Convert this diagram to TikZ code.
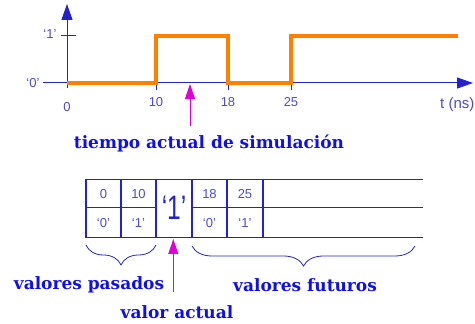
\documentclass[tikz,border=0pt]{standalone}
\usepackage{fontspec}
\setmainfont{Liberation Sans}
\newfontfamily\capfont{DejaVu Serif}
\usetikzlibrary{arrows.meta, decorations.pathreplacing, positioning}

\definecolor{axisblue}{RGB}{35,35,205}
\definecolor{labelblue}{RGB}{75,75,205}
\definecolor{capblue}{RGB}{15,15,235}
\definecolor{sigorange}{RGB}{255,128,0}
\definecolor{nowmagenta}{RGB}{225,0,215}

\tikzset{axis/.style={draw=axisblue, line width=1pt},
    axis arrow/.style={axis, -{Triangle[length=16pt,width=11pt]}},
    signal/.style={draw=sigorange, line width=3.5pt},
    marker/.style={draw=nowmagenta, fill=nowmagenta, line width=1pt,
        -{Triangle[length=15pt,width=10pt]}},
    tick label/.style={text=labelblue, inner sep=1pt,
        font=\fontsize{13}{13}\selectfont},
    caption/.style={text=capblue, inner sep=1pt,
        font=\capfont\bfseries\fontsize{17}{17}\selectfont},
    grid line/.style={draw=axisblue, line width=1.2pt},
    brace/.style={draw=axisblue, line width=0.8pt, decorate,
        decoration={brace, mirror, amplitude=20pt}}}

\begin{document}
\begin{tikzpicture}[x=1pt,y=1pt]
\useasboundingbox (0,0) rectangle (475,324);

% Axes of the waveform
\coordinate (ybot) at (67,236);
\coordinate (ytop) at (67,320);
\coordinate (xleft) at (43,241);
\coordinate (xright) at (473,241);
\draw[axis arrow] (ybot) -- (ytop);
\draw[axis arrow] (xleft) -- (xright);
\draw[axis] (61,288) -- (76,288);

% Level and time labels
\node[tick label] (lvl1) at (50,290) {‘1’};
\node[tick label] (lvl0) at (33,241) {‘0’};
\node[tick label] (t0) at (67,217) {0};
\foreach \x/\t in {156/10, 228/18, 291/25} {
  \draw[axis] (\x,241) -- (\x,234);
  \node[tick label] (t\t) at (\x,222) {\t};
}
\node[tick label, anchor=west, font=\fontsize{15}{15}\selectfont] (tunit)
    at (439,219) {t (ns)};

% The signal itself
\draw[signal] (67,241) -- (156,241) -- (156,288) -- (228,288) -- (228,241)
    -- (291,241) -- (291,288) -- (458,288);

% Current simulation time
\coordinate (now) at (190,240);
\coordinate (nowbase) at (190,198);
\draw[marker] (nowbase) -- (now);
\node[caption] (simtime) at (209,181) {tiempo actual de simulación};

% Event queue table
\draw[grid line] (86,144.7) -- (423,144.7);
\draw[grid line] (86,116.3) -- (156,116.3);
\draw[grid line] (192,116.3) -- (423,116.3);
\draw[grid line] (86,86.7) -- (423,86.7);
\foreach \x in {86,121,156,192,227,263}
  \draw[grid line] (\x,144.7) -- (\x,85.5);

\node[tick label] (c0) at (103.5,130) {0};
\node[tick label] (c10) at (138.5,130) {10};
\node[tick label] (c18) at (209.5,130) {18};
\node[tick label] (c25) at (245,130) {25};
\node[tick label] (v0) at (103.5,101) {‘0’};
\node[tick label] (v10) at (138.5,101) {‘1’};
\node[tick label] (v18) at (209.5,101) {‘0’};
\node[tick label] (v25) at (245,101) {‘1’};
\node[text=axisblue, font=\fontsize{34}{34}\selectfont] (cur) at (174,116)
    {\scalebox{0.72}[1]{‘1’}};

% Braces under the past and future values
\draw[brace] (86,79) -- (156,79);
\draw[brace] (192,78) -- (415,78);

\coordinate (curtip) at (173.3,85);
\coordinate (curbase) at (173.3,32);
\draw[marker] (curbase) -- (curtip);

\node[caption] (past) at (89,39) {valores pasados};
\node[caption] (future) at (305,39) {valores futuros};
\node[caption] (curval) at (177,12) {valor actual};
\end{tikzpicture}
\end{document}
